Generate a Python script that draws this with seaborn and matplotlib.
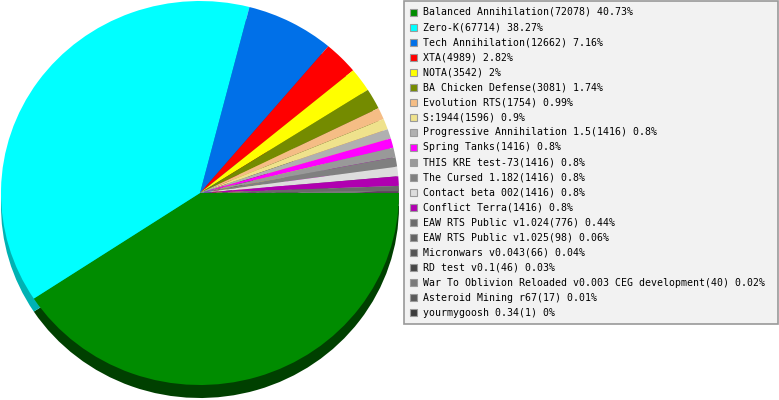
import colorsys
import matplotlib
matplotlib.use("Agg")
import matplotlib.pyplot as plt
import matplotlib.colors as mcolors
from matplotlib.patches import Rectangle
import seaborn as sns

games = ["Balanced Annihilation", "Zero-K", "Tech Annihilation", "XTA", "NOTA",
         "BA Chicken Defense", "Evolution RTS", "S:1944", "Progressive Annihilation 1.5",
         "Spring Tanks", "THIS KRE test-73", "The Cursed 1.182", "Contact beta 002",
         "Conflict Terra", "EAW RTS Public v1.024", "EAW RTS Public v1.025",
         "Micronwars v0.043", "RD test v0.1",
         "War To Oblivion Reloaded v0.003 CEG development", "Asteroid Mining r67",
         "yourmygoosh 0.34"]
counts = [72078, 67714, 12662, 4989, 3542, 3081, 1754, 1596, 1416, 1416, 1416,
          1416, 1416, 1416, 776, 98, 66, 46, 40, 17, 1]
percents = ["40.73%", "38.27%", "7.16%", "2.82%", "2%", "1.74%", "0.99%", "0.9%",
            "0.8%", "0.8%", "0.8%", "0.8%", "0.8%", "0.8%", "0.44%", "0.06%",
            "0.04%", "0.03%", "0.02%", "0.01%", "0%"]
colors = ["#008c00", "#00ffff", "#0070e8", "#ff0000", "#ffff00", "#748b00",
          "#f5bd85", "#efe28c", "#b0b0b0", "#ff00ff", "#999999", "#808080",
          "#dddddd", "#b000b0", "#6a6a6a", "#626262", "#555555", "#474747",
          "#7a7a7a", "#5a5a5a", "#3c3c3c"]


def darker(c, amt=0.15):
    r, g, b = mcolors.to_rgb(c)
    h, l, s = colorsys.rgb_to_hls(r, g, b)
    return colorsys.hls_to_rgb(h, max(0.0, l - amt), s)


sns.set_theme(style="white")
plt.rcParams["font.family"] = ["DejaVu Sans Mono", "DejaVu Sans"]

W, H = 779, 400
fig = plt.figure(figsize=(W / 100, H / 100), dpi=100)
fig.patch.set_facecolor("white")

cx, cy, rx, ry = 200.0, 193.0, 199.0, 192.0
depth = 13.0
axp = fig.add_axes([0, 0, 400 / W, 1])
axp.axis("off")

side_colors = [darker(c) for c in colors]
side_wedges, _ = axp.pie(counts, colors=side_colors, startangle=0, counterclock=False,
                         center=(0, -depth / ry), radius=1.0,
                         wedgeprops=dict(linewidth=0))
clip = Rectangle((-2, -3), 4, 3, transform=axp.transData)
for w in side_wedges:
    w.set_clip_path(clip)
axp.pie(counts, colors=colors, startangle=0, counterclock=False,
        center=(0, 0), radius=1.0, wedgeprops=dict(linewidth=0))
axp.set_xlim(-cx / rx, (400 - cx) / rx)
axp.set_ylim(-(H - cy) / ry, cy / ry)
axp.set_aspect("auto")

# legend overlay in pixel coordinates
axl = fig.add_axes([0, 0, 1, 1], facecolor="none")
axl.set_xlim(0, W)
axl.set_ylim(H, 0)
axl.axis("off")
axl.add_patch(Rectangle((404.5, 0.5), 374, 323, facecolor="#f2f2f2",
                        edgecolor="#999999", linewidth=1.2))
for i, (g, n, p, c) in enumerate(zip(games, counts, percents, colors)):
    y = 12.0 + 15.03 * i
    axl.add_patch(Rectangle((410, y - 3.5), 7, 7, facecolor=c,
                            edgecolor="#9a9a9a", linewidth=0.8))
    axl.text(423, y, f"{g}({n}) {p}", fontsize=7.15, color="#000000",
             va="center", ha="left", family=["DejaVu Sans Mono", "DejaVu Sans"])

fig.savefig("out.png", dpi=100, facecolor="white")
